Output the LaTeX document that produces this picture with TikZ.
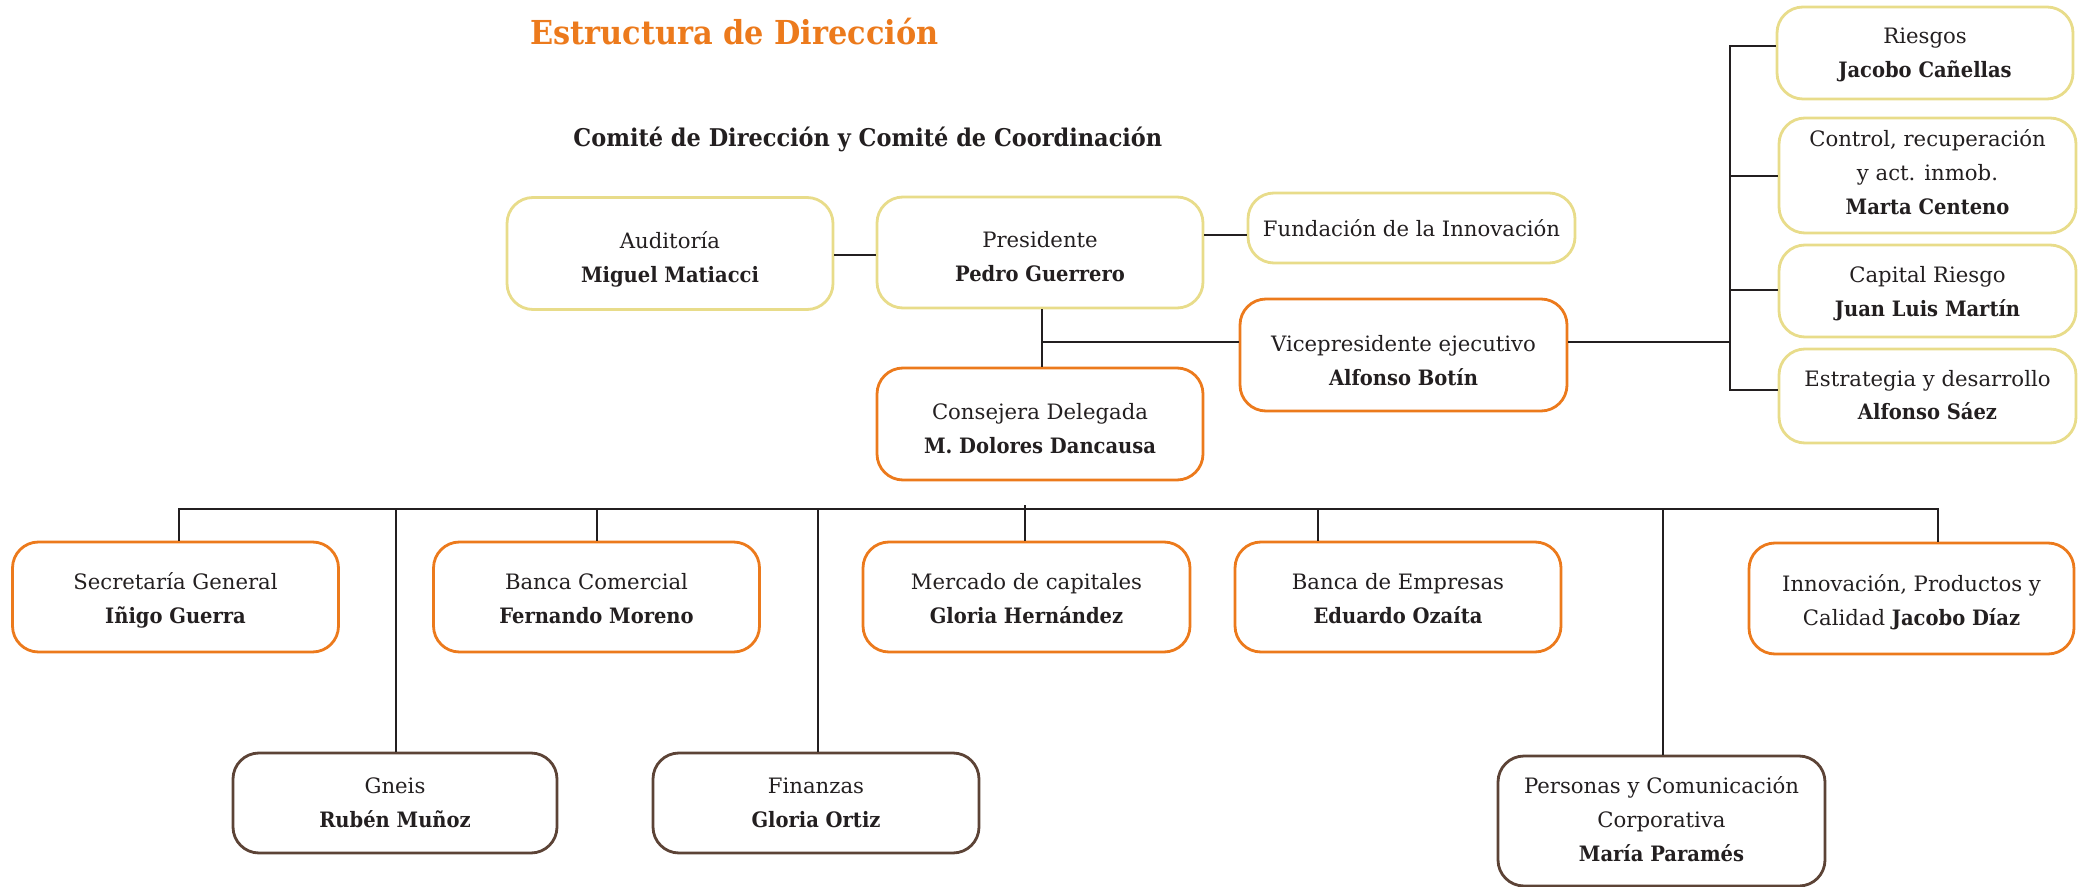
\documentclass[tikz,border=0pt]{standalone}
\usepackage{fontspec}
\setmainfont{DejaVu Serif}[BoldFeatures={FakeStretch=0.92}]
\definecolor{org}{HTML}{EC7A1C}
\definecolor{ylw}{HTML}{E8DC8A}
\definecolor{brn}{HTML}{5C4336}
\definecolor{txt}{HTML}{231F20}
\newcommand{\myTop}[1]{\rule{0pt}{#1pt}}
\newcommand{\myBot}{\rule[-4pt]{0pt}{4pt}}
\begin{document}
\begin{tikzpicture}[x=0.5pt,y=-0.5pt,
  box/.style={draw, rounded corners=13pt, line width=1.4pt, fill=white, align=center,
    inner sep=0pt, text=txt, font=\fontsize{10.6}{17}\selectfont,
    minimum width=163pt, minimum height=55pt},
  yb/.style={box, draw=ylw},
  ob/.style={box, draw=org},
  bb/.style={box, draw=brn},
  conn/.style={draw=txt, line width=1.4pt}]
\useasboundingbox (0,0) rectangle (2087,887);

% titles
\node[anchor=base west, inner sep=0pt, text=org, font=\bfseries\fontsize{16.5}{20}\selectfont] (title) at (530,45) {Estructura de Dirección};
\node[anchor=base west, inner sep=0pt, text=txt, font=\bfseries\fontsize{12.2}{14}\selectfont] (sub) at (573,147) {Comité de Dirección y Comité de Coordinación};

% top group
\node[yb, minimum height=56pt] (aud) at (670,253.5) {\myTop{16.5}Auditoría\\\textbf{Miguel Matiacci}\myBot};
\node[yb, minimum height=55.5pt] (pres) at (1040,252.5) {\myTop{16.5}Presidente\\\textbf{Pedro Guerrero}\myBot};
\node[yb, minimum width=163.5pt, minimum height=35pt] (fund) at (1411.5,228) {\myTop{13}Fundación de la Innovación\myBot};
\node[ob, minimum width=163.5pt, minimum height=56pt] (vice) at (1403.5,355) {\myTop{18}Vicepresidente ejecutivo\\\textbf{Alfonso Botín}\myBot};
\node[ob, minimum height=56pt] (cons) at (1040,424) {\myTop{16}Consejera Delegada\\\textbf{M. Dolores Dancausa}\myBot};

% right column
\node[yb, minimum width=148pt, minimum height=46pt] (ries) at (1925,53) {\myTop{12}Riesgos\\\textbf{Jacobo Cañellas}\myBot};
\node[yb, minimum width=148.5pt, minimum height=57.5pt] (ctrl) at (1927.5,175.5) {\myTop{9.5}Control, recuperación\\y act. inmob.\\\textbf{Marta Centeno}\myBot};
\node[yb, minimum width=148.5pt, minimum height=46pt] (cap) at (1927.5,291) {\myTop{13}Capital Riesgo\\\textbf{Juan Luis Martín}\myBot};
\node[yb, minimum width=148.5pt, minimum height=47pt] (estr) at (1927.5,396) {\myTop{11}Estrategia y desarrollo\\\textbf{Alfonso Sáez}\myBot};

% bottom row
\node[ob] (sec) at (175.5,597) {\myTop{13}Secretaría General\\\textbf{Iñigo Guerra}\myBot};
\node[ob] (bcom) at (596.5,597) {\myTop{13}Banca Comercial\\\textbf{Fernando Moreno}\myBot};
\node[ob, minimum width=163.5pt] (merc) at (1026.5,597) {\myTop{13}Mercado de capitales\\\textbf{Gloria Hernández}\myBot};
\node[ob] (bemp) at (1398,597) {\myTop{13}Banca de Empresas\\\textbf{Eduardo Ozaíta}\myBot};
\node[ob, minimum width=162.5pt, minimum height=55.5pt] (inno) at (1911.5,598.5) {\myTop{13.5}Innovación, Productos y\\Calidad \textbf{Jacobo Díaz}\myBot};

\node[bb, minimum width=162pt, minimum height=50pt] (gneis) at (395,803) {\myTop{11}Gneis\\\textbf{Rubén Muñoz}\myBot};
\node[bb, minimum width=163pt, minimum height=50pt] (fin) at (816,803) {\myTop{11}Finanzas\\\textbf{Gloria Ortiz}\myBot};
\node[bb, minimum width=163.5pt, minimum height=65pt] (pers) at (1661.5,821) {\myTop{10}Personas y Comunicación\\Corporativa\\\textbf{María Paramés}\myBot};

% connectors top
\draw[conn] (aud.east |- 0,255) -- (pres.west |- 0,255);
\draw[conn] (pres.east |- 0,235) -- (fund.west |- 0,235);
\draw[conn] (pres.south -| 1042,0) -- (cons.north -| 1042,0);
\coordinate (jv) at (1042,342);
\draw[conn] (jv) -- (vice.west |- jv);
\coordinate (rb) at (1730,342);
\draw[conn] (vice.east |- rb) -- (rb);
\coordinate (rt) at (1730,46);
\coordinate (rbot) at (1730,390);
\draw[conn] (ries.west |- rt) -- (rt) -- (rbot) -- (estr.west |- rbot);
\draw[conn] (1730,176) -- (ctrl.west |- 0,176);
\draw[conn] (1730,290) -- (cap.west |- 0,290);

% bottom bus
\coordinate (bl) at (179,509);
\coordinate (br) at (1938,509);
\draw[conn] (sec.north -| bl) -- (bl) -- (br) -- (inno.north -| br);
\draw[conn] (597,509) -- (bcom.north -| 597,0);
\draw[conn] (1025,505) -- (merc.north -| 1025,0);
\draw[conn] (1318,509) -- (bemp.north -| 1318,0);
\draw[conn] (396,509) -- (gneis.north -| 396,0);
\draw[conn] (818,509) -- (fin.north -| 818,0);
\draw[conn] (1663,509) -- (pers.north -| 1663,0);
\end{tikzpicture}
\end{document}
